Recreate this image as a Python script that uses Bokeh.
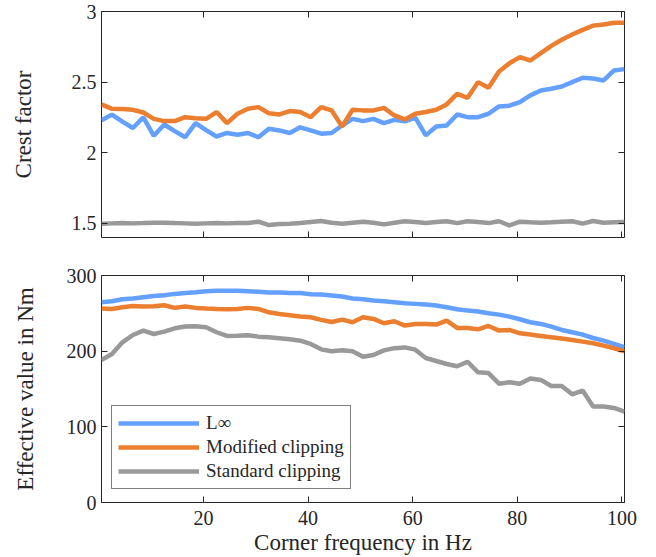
from bokeh.plotting import figure
from bokeh.models import Range1d, FixedTicker, LinearAxis, Legend, LegendItem, CustomLabelingPolicy
from bokeh.layouts import column
from bokeh.embed import file_html
from bokeh.resources import INLINE

# ---------------- data ----------------
freq = [0.5, 2.5, 4.5, 6.5, 8.5, 10.5, 12.5, 14.5, 16.5, 18.5,
        20.5, 22.5, 24.5, 26.5, 28.5, 30.5, 32.5, 34.5, 36.5, 38.5,
        40.5, 42.5, 44.5, 46.5, 48.5, 50.5, 52.5, 54.5, 56.5, 58.5,
        60.5, 62.5, 64.5, 66.5, 68.5, 70.5, 72.5, 74.5, 76.5, 78.5,
        80.5, 82.5, 84.5, 86.5, 88.5, 90.5, 92.5, 94.5, 96.5, 98.5, 100.5]

crest_linf = [2.23, 2.27, 2.22, 2.175, 2.25, 2.12, 2.20, 2.153, 2.11, 2.21,
              2.16, 2.115, 2.14, 2.127, 2.14, 2.11, 2.17, 2.158, 2.14, 2.18,
              2.158, 2.135, 2.14, 2.193, 2.24, 2.224, 2.24, 2.21, 2.233, 2.222,
              2.248, 2.123, 2.186, 2.193, 2.271, 2.252, 2.252, 2.276, 2.328, 2.333,
              2.358, 2.406, 2.441, 2.453, 2.469, 2.5, 2.531, 2.526, 2.512, 2.583, 2.592]
crest_mod = [2.342, 2.311, 2.309, 2.304, 2.285, 2.24, 2.224, 2.224, 2.252, 2.245,
             2.24, 2.288, 2.21, 2.276, 2.311, 2.323, 2.28, 2.271, 2.295, 2.288,
             2.252, 2.323, 2.30, 2.186, 2.304, 2.30, 2.30, 2.318, 2.264, 2.236,
             2.276, 2.288, 2.304, 2.342, 2.417, 2.389, 2.5, 2.46, 2.575, 2.634,
             2.677, 2.653, 2.705, 2.757, 2.80, 2.837, 2.87, 2.9, 2.908, 2.92, 2.92]
crest_std = [1.498, 1.50, 1.502, 1.50, 1.502, 1.505, 1.505, 1.502, 1.50, 1.498,
             1.50, 1.502, 1.50, 1.502, 1.502, 1.512, 1.488, 1.495, 1.498, 1.502,
             1.51, 1.517, 1.505, 1.498, 1.505, 1.512, 1.505, 1.493, 1.505, 1.515,
             1.51, 1.502, 1.51, 1.515, 1.502, 1.515, 1.51, 1.502, 1.515, 1.486,
             1.512, 1.508, 1.505, 1.508, 1.512, 1.515, 1.498, 1.517, 1.505, 1.508, 1.51]

eff_linf = [264.7, 266, 268.7, 269.5, 271.3, 273, 274, 275.7, 277, 278,
            279.2, 280, 280, 280, 279.2, 278.4, 277.5, 277.5, 277, 277,
            275.3, 274.8, 273.5, 272.2, 269.5, 268.7, 266.9, 266, 264.7, 263.4,
            262.5, 261.6, 260.3, 258, 255.4, 253.6, 252.3, 250.1, 248.3, 245.7,
            242.2, 238.2, 236, 232.5, 228, 225, 221.9, 217.4, 213.9, 209.5, 205.1]
eff_mod = [256.3, 255.8, 258, 259.8, 259, 259.4, 260.7, 257.2, 259, 257.2,
           256.3, 255.8, 255.4, 255.8, 257.2, 255.8, 251.4, 249.2, 247.5, 245.7,
           244.8, 241.3, 238.6, 241.7, 238.2, 244.8, 242.6, 236.9, 239.5, 233.8,
           236, 236, 235.1, 240.4, 230.7, 230.7, 228.9, 233.3, 227.2, 228,
           223.6, 221.9, 220.1, 218.3, 216.6, 214.8, 212.6, 210.4, 207.3, 203.8, 199.8]
eff_std = [188.3, 196.2, 211.7, 221.4, 227.2, 222.7, 225.8, 230.2, 232.5, 232.9,
           231.6, 225, 220.1, 220.5, 221, 219.2, 218.3, 217, 215.7, 213.9,
           209.5, 202.4, 199.8, 201.1, 199.8, 192.7, 195, 201, 204, 205,
           202, 191, 187, 183, 180, 186, 172, 171, 157, 159,
           157, 164, 162, 154, 154, 143, 148, 127, 127, 125, 120]

x_ticks = [20, 40, 60, 80, 100]
crest_ticks = [1.5, 2, 2.5, 3]
crest_tick_labels = ["1.5", "2", "2.5", "3"]
eff_ticks = [0, 100, 200, 300]

series_names = ["L∞", "Modified clipping", "Standard clipping"]
colors = ["#64A0FF", "#EC7E2F", "#999999"]

# ---------------- style ----------------
FONT = "Liberation Serif"
AX = "#262626"
LW = 4.5

HIDE = "const all = [...indices]; for (const i of all) indices.unset(i); return indices;"


def style_axis(ax, ticks, labels=True, overrides=None):
    ax.ticker = FixedTicker(ticks=ticks)
    ax.axis_line_color = None
    ax.major_tick_in = 6
    ax.major_tick_out = 0
    ax.major_tick_line_color = AX
    ax.major_tick_line_width = 1
    ax.minor_tick_line_color = None
    ax.major_label_text_font = FONT
    ax.major_label_text_color = AX
    ax.major_label_text_font_size = "20px"
    ax.major_label_standoff = 5
    ax.axis_label_text_font = FONT
    ax.axis_label_text_font_size = "23px"
    ax.axis_label_text_font_style = "normal"
    ax.axis_label_text_color = AX
    if overrides:
        ax.major_label_overrides = overrides
    if not labels:
        ax.major_label_text_font_size = "1px"
        ax.major_label_standoff = 0
        ax.major_label_policy = CustomLabelingPolicy(code=HIDE)


def base_fig(height, y_range, x_range, **kw):
    p = figure(width=656, height=height, x_range=x_range, y_range=y_range,
               output_backend="svg", toolbar_location=None,
               min_border_left=101, min_border_right=32, **kw)
    p.outline_line_color = AX
    p.outline_line_width = 1
    p.grid.visible = False
    p.background_fill_color = "white"
    p.border_fill_color = "white"
    return p


xr = Range1d(0.5, 100.5)

# ---------------- top: crest factor ----------------
p1 = base_fig(256, Range1d(1.4, 3.0), xr, min_border_top=11, min_border_bottom=19)
crest_over = {t: s for t, s in zip(crest_ticks, crest_tick_labels)}
style_axis(p1.xaxis[0], x_ticks, labels=False)
style_axis(p1.yaxis[0], crest_ticks, overrides=crest_over)
p1.yaxis[0].axis_label = "Crest factor"
p1.yaxis[0].axis_label_standoff = 33
ra = LinearAxis()
style_axis(ra, crest_ticks, labels=False)
p1.add_layout(ra, "right")
ta = LinearAxis()
style_axis(ta, x_ticks, labels=False)
p1.add_layout(ta, "above")

for ys, c in zip([crest_linf, crest_mod, crest_std], colors):
    p1.line(freq, ys, line_color=c, line_width=LW)

# ---------------- bottom: effective value ----------------
p2 = base_fig(301, Range1d(0, 300), xr, min_border_top=19, min_border_bottom=55)
style_axis(p2.xaxis[0], x_ticks)
p2.xaxis[0].major_label_standoff = 8
p2.xaxis[0].axis_label = "Corner frequency in Hz"
p2.xaxis[0].axis_label_standoff = 2
style_axis(p2.yaxis[0], eff_ticks)
p2.yaxis[0].axis_label = "Effective value in Nm"
p2.yaxis[0].axis_label_standoff = 26
ra2 = LinearAxis()
style_axis(ra2, eff_ticks, labels=False)
p2.add_layout(ra2, "right")
ta2 = LinearAxis()
style_axis(ta2, x_ticks, labels=False)
p2.add_layout(ta2, "above")

renderers = []
for ys, c in zip([eff_linf, eff_mod, eff_std], colors):
    renderers.append(p2.line(freq, ys, line_color=c, line_width=LW))

legend = Legend(items=[LegendItem(label=n, renderers=[r]) for n, r in zip(series_names, renderers)],
                location=(10, 13))
legend.border_line_color = "black"
legend.border_line_width = 1
legend.background_fill_color = "white"
legend.background_fill_alpha = 1
legend.label_text_font = FONT
legend.label_text_font_size = "19px"
legend.label_text_color = AX
legend.glyph_width = 81
legend.glyph_height = 20
legend.label_height = 20
legend.spacing = 2
legend.padding = 6
legend.label_standoff = 7
legend.margin = 0
p2.add_layout(legend)

layout = column(p1, p2, spacing=0)
open("out.html", "w").write(file_html(layout, INLINE))
